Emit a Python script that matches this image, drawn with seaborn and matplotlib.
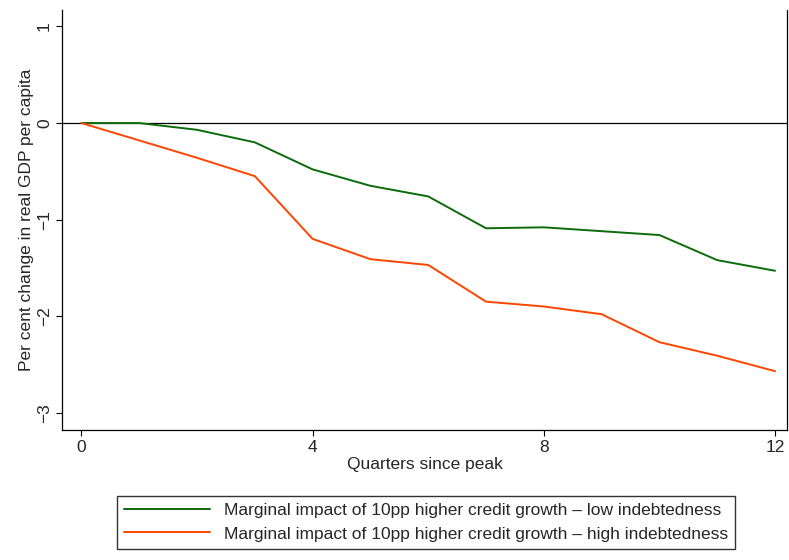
import matplotlib
matplotlib.use("Agg")
import matplotlib.pyplot as plt
import seaborn as sns
import pandas as pd

quarters = list(range(13))
low_debt = [0, 0, -0.07, -0.2, -0.48, -0.65, -0.76, -1.09, -1.08, -1.12, -1.16, -1.42, -1.53]
high_debt = [0, -0.18, -0.36, -0.55, -1.2, -1.41, -1.47, -1.85, -1.9, -1.98, -2.27, -2.41, -2.57]
labels = ["Marginal impact of 10pp higher credit growth \u2013 low indebtedness",
          "Marginal impact of 10pp higher credit growth \u2013 high indebtedness"]

sns.set_style("white")
plt.rcParams["font.family"] = ["Liberation Sans", "DejaVu Sans"]

df = pd.DataFrame({"q": quarters * 2, "v": low_debt + high_debt,
                   "s": [labels[0]] * 13 + [labels[1]] * 13})

fig = plt.figure(figsize=(7.89, 5.6), dpi=100)
ax = fig.add_axes([0.079, 0.232, 0.918, 0.75])
ax.axhline(0, color="black", lw=0.9)
sns.lineplot(data=df, x="q", y="v", hue="s", palette=["#0b6b0b", "#ff4500"], lw=1.4, ax=ax, legend=False)

ax.set_xlim(-0.33, 12.2)
ax.set_ylim(-3.18, 1.17)
ax.set_xticks([0, 4, 8, 12])
ax.set_yticks([-3, -2, -1, 0, 1])
ax.set_yticklabels(["\u22123", "\u22122", "\u22121", "0", "1"], rotation=90, va="center")
ax.tick_params(axis="both", length=4, labelsize=12.5, left=True, bottom=True, color="black")
ax.set_xlabel("Quarters since peak", fontsize=12.5, labelpad=1)
ax.set_ylabel("Per cent change in real GDP per capita", fontsize=12.5, labelpad=2)
ax.spines["top"].set_visible(False)
for s in ["left", "bottom", "right"]:
    ax.spines[s].set_color("black")
    ax.spines[s].set_linewidth(0.9)

handles = [plt.Line2D([], [], color="#0b6b0b", lw=1.4), plt.Line2D([], [], color="#ff4500", lw=1.4)]
fig.legend(handles, labels, loc="lower center", bbox_to_anchor=(0.54, 0.005), ncol=1,
           frameon=True, fancybox=False, edgecolor="black", fontsize=12.5, handlelength=5)

fig.savefig("out.png", dpi=100)
